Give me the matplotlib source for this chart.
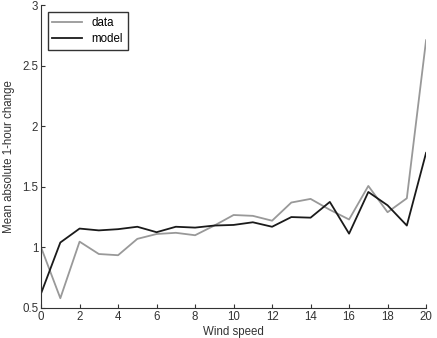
import matplotlib
matplotlib.use("Agg")
import matplotlib.pyplot as plt

# ── Data ────────────────────────────────────────────────────────────────────────
wind_speed = list(range(21))
data_vals  = [1.00, 0.58, 1.047, 0.945, 0.935, 1.07, 1.11, 1.12, 1.10, 1.18,
              1.267, 1.26, 1.22, 1.37, 1.40, 1.31, 1.23, 1.507, 1.29, 1.405, 2.71]
model_vals = [0.62, 1.04, 1.155, 1.14, 1.15, 1.17, 1.125, 1.17, 1.163, 1.18,
              1.185, 1.207, 1.17, 1.25, 1.245, 1.375, 1.113, 1.457, 1.347, 1.18, 1.78]
x_ticks = [0, 2, 4, 6, 8, 10, 12, 14, 16, 18, 20]
y_ticks = [0.5, 1, 1.5, 2, 2.5, 3]

plt.rcParams["font.family"] = ["Liberation Sans", "DejaVu Sans"]

fig = plt.figure(figsize=(4.37, 3.38), dpi=100)
ax = fig.add_axes([0.094, 0.089, 0.881, 0.896])

ax.plot(wind_speed, data_vals, color="#999999", lw=1.3, label="data")
ax.plot(wind_speed, model_vals, color="#1a1a1a", lw=1.3, label="model")

ax.set_xlim(0, 20)
ax.set_ylim(0.5, 3)
ax.set_xticks(x_ticks)
ax.set_yticks(y_ticks)
ax.set_yticklabels(["0.5", "1", "1.5", "2", "2.5", "3"])

for side in ("top", "right"):
    ax.spines[side].set_visible(False)
for side in ("left", "bottom"):
    ax.spines[side].set_color("#333333")
    ax.spines[side].set_linewidth(0.8)

ax.tick_params(direction="in", length=3, width=0.8, labelsize=8.3,
               colors="#333333", pad=2)
ax.set_xlabel("Wind speed", fontsize=8.3, color="#333333", labelpad=2.5)
ax.set_ylabel("Mean absolute 1-hour change", fontsize=8.3, color="#333333", labelpad=5.5)

leg = ax.legend(loc="upper left", bbox_to_anchor=(0.017, 0.977), fontsize=8.3,
                frameon=True, fancybox=False, handlelength=2.6, handletextpad=0.8,
                borderpad=0.4, labelspacing=0.4, borderaxespad=0)
leg.get_frame().set_edgecolor("black")
leg.get_frame().set_linewidth(1.0)

fig.savefig("out.png", dpi=100)
plt.close()
